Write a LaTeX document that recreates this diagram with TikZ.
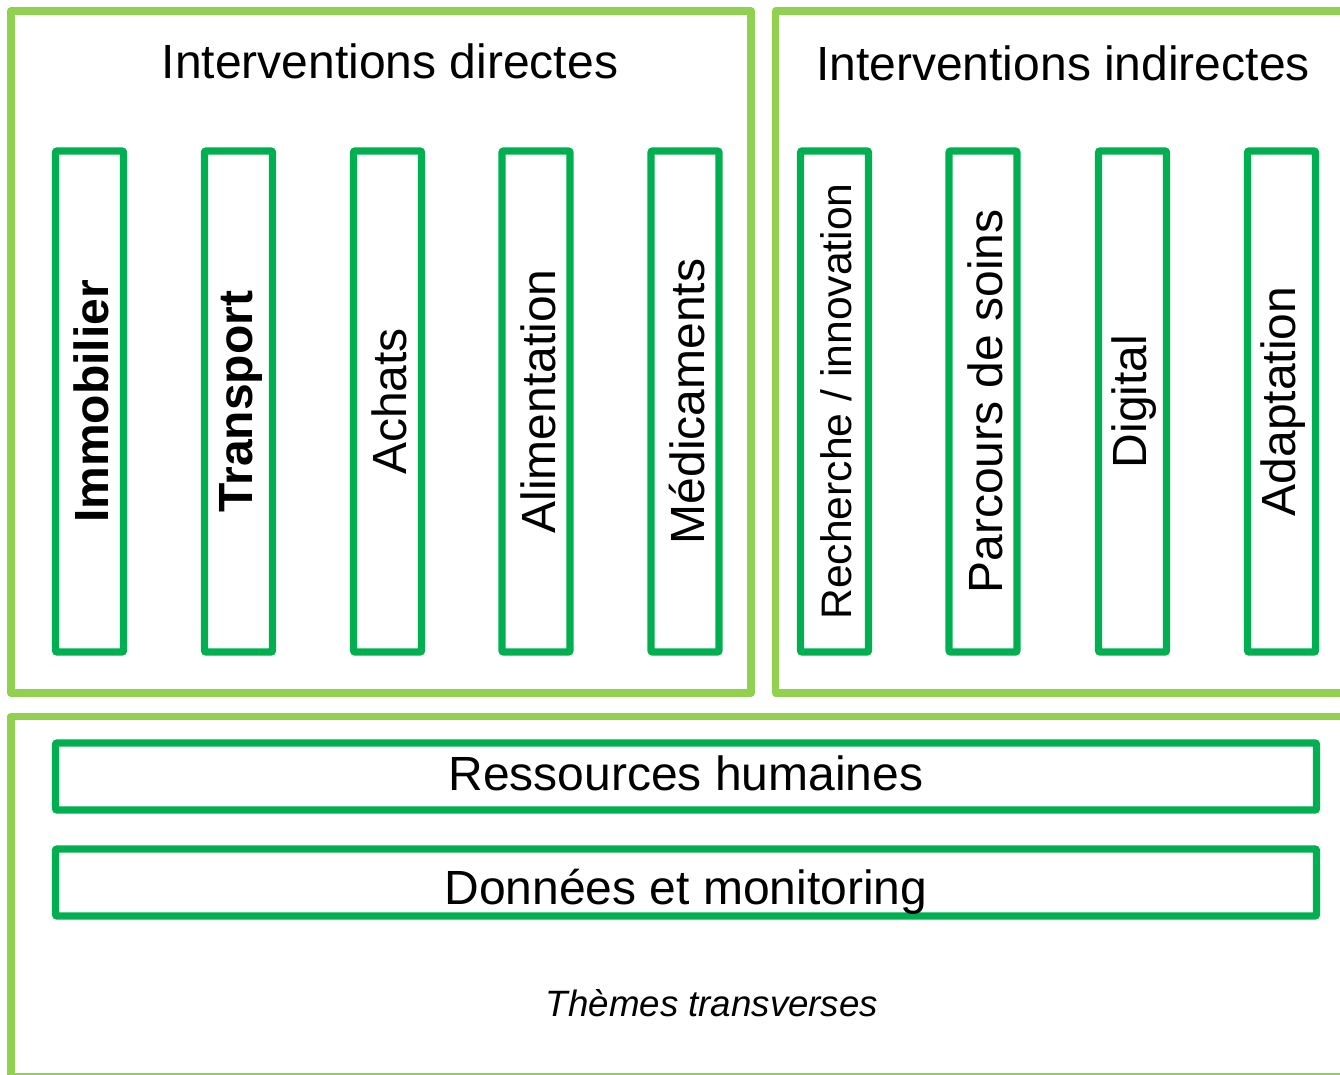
\documentclass[tikz,border=0pt]{standalone}
\usepackage{fontspec}
\setmainfont{Liberation Sans}
\definecolor{vertclair}{HTML}{92D050}
\definecolor{vertfonce}{HTML}{00B050}
% texte vertical un peu vers la droite, sans changer la boite
\newcommand{\decale}[1]{\raisebox{-1.5pt}[\height][\depth]{#1}}
\tikzset{
  cadre/.style={draw=vertclair, line width=5.6pt, line join=round},
  colonne/.style={draw=vertfonce, line width=5.6pt, rounded corners=1.5pt, rotate=90,
    minimum width=375.75pt, minimum height=51pt, inner sep=0pt,
    font=\fontsize{36}{40}\selectfont},
  bande/.style={draw=vertfonce, line width=5.6pt, rounded corners=1.5pt,
    minimum width=945.75pt, minimum height=50.25pt, inner sep=0pt,
    text depth=0pt, font=\fontsize{36}{40}\selectfont},
  titre/.style={anchor=base, font=\fontsize{36}{40}\selectfont},
}
\begin{document}
\begin{tikzpicture}[x=0.75pt,y=-0.75pt]

  \useasboundingbox (0,0) rectangle (1340,1075);
  \clip (0,0) rectangle (1340,1075);

  % les trois cadres
  \draw[cadre] (11,11) rectangle (751,693);
  \draw[cadre] (775.5,11) rectangle (1365,693);
  \draw[cadre] (11,716.5) rectangle (1365,1077);

  \node[titre] (directes) at (390,78) {Interventions directes};
  \node[titre] (indirectes) at (1063,80) {Interventions indirectes};

  % interventions directes
  \node[colonne, font=\fontsize{36}{40}\selectfont\bfseries] (immobilier) at (89.5,401.5) {\decale{Immobilier}};
  \node[colonne, font=\fontsize{36}{40}\selectfont\bfseries] (transport) at (238.5,401.5) {\decale{Transport}};
  \node[colonne] (achats) at (387.5,401.5) {\decale{Achats}};
  \node[colonne] (alimentation) at (536,401.5) {\decale{Alimentation}};
  \node[colonne] (medicaments) at (685,401.5) {\decale{Médicaments}};

  % interventions indirectes
  \node[colonne, font=\fontsize{32}{36}\selectfont] (recherche) at (834.5,401.5) {\decale{Recherche / innovation}};
  \node[colonne] (parcours) at (983,401.5) {\decale{Parcours de soins}};
  \node[colonne] (digital) at (1132.5,401.5) {\decale{Digital}};
  \node[colonne] (adaptation) at (1281.5,401.5) {\decale{Adaptation}};

  % themes transverses
  \node[bande, text height=20.25pt] (rh) at (686,776.5) {Ressources humaines};
  \node[bande, text height=32.25pt] (donnees) at (686,882.5) {Données et monitoring};
  \node[font=\fontsize{27.5}{30}\selectfont\itshape] (transverses) at (712,1003) {Thèmes transverses};

\end{tikzpicture}
\end{document}
